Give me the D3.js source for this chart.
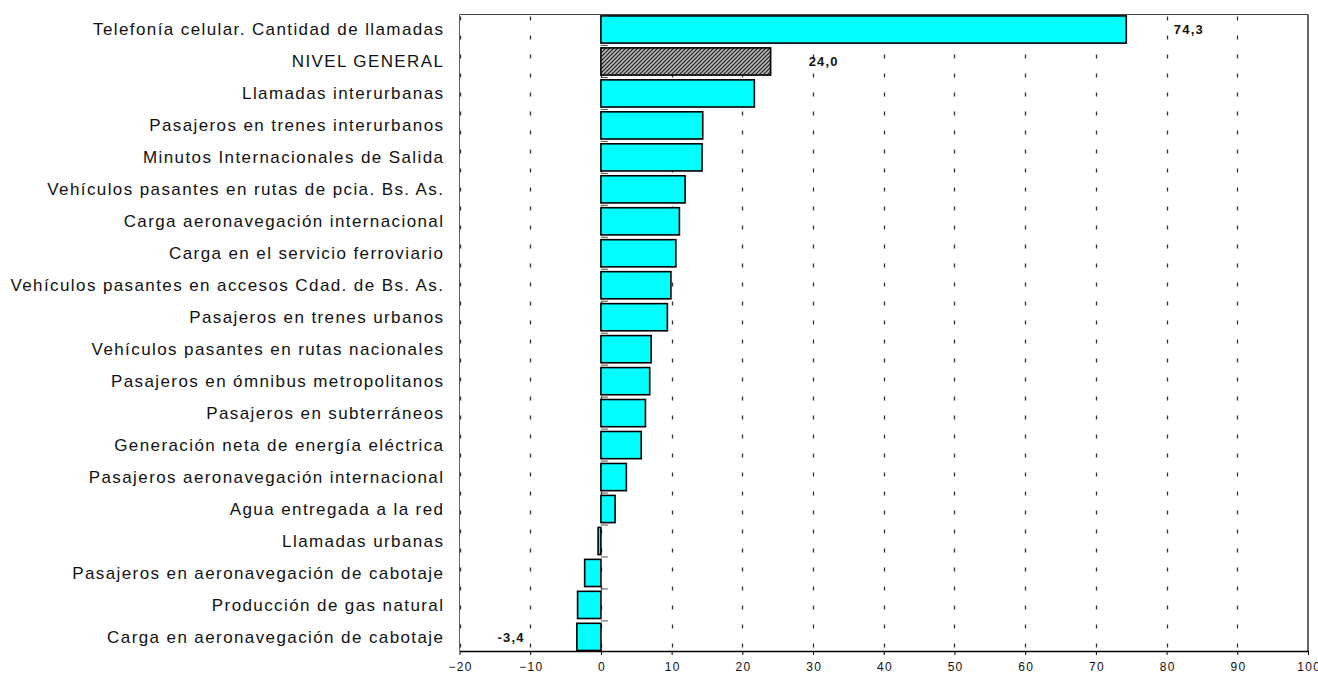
<!DOCTYPE html>
<html><head><meta charset="utf-8">
<script src="https://cdn.jsdelivr.net/npm/d3@7"></script>
<style>
html,body{margin:0;padding:0;background:#fff;}
svg{display:block;font-family:Arial,"Liberation Sans",sans-serif;}
</style></head>
<body>
<svg id="chart" width="1318" height="675"></svg>
<script>
const categories = [
  "Telefonía celular. Cantidad de llamadas",
  "NIVEL GENERAL",
  "Llamadas interurbanas",
  "Pasajeros en trenes interurbanos",
  "Minutos Internacionales de Salida",
  "Vehículos pasantes en rutas de pcia. Bs. As.",
  "Carga aeronavegación internacional",
  "Carga en el servicio ferroviario",
  "Vehículos pasantes en accesos Cdad. de Bs. As.",
  "Pasajeros en trenes urbanos",
  "Vehículos pasantes en rutas nacionales",
  "Pasajeros en ómnibus metropolitanos",
  "Pasajeros en subterráneos",
  "Generación neta de energía eléctrica",
  "Pasajeros aeronavegación internacional",
  "Agua entregada a la red",
  "Llamadas urbanas",
  "Pasajeros en aeronavegación de cabotaje",
  "Producción de gas natural",
  "Carga en aeronavegación de cabotaje"
];
const values = [74.3, 24.0, 21.7, 14.4, 14.3, 11.9, 11.1, 10.6, 9.9, 9.4, 7.1, 6.9, 6.3, 5.7, 3.6, 2.0, -0.4, -2.3, -3.3, -3.4];
const labeledIndex = [0, 1, 19];
const labelTexts = ["74,3", "24,0", "-3,4"];
const highlight = "NIVEL GENERAL";
const xTicks = [-20, -10, 0, 10, 20, 30, 40, 50, 60, 70, 80, 90, 100];

(function () {
const svg = d3.select("#chart");
const pL = 459.5, pR = 1308, pT = 14.5, pB = 651;

const x = d3.scaleLinear().domain([-20, 100]).range([pL, pR]);
const y = d3.scaleBand().domain(categories).range([14, 652.4]).paddingInner(0.15).paddingOuter(0.06);

// hatch pattern
const defs = svg.append("defs");
const pat = defs.append("pattern").attr("id", "hatch").attr("patternUnits", "userSpaceOnUse")
  .attr("width", 4).attr("height", 4);
pat.append("rect").attr("width", 4).attr("height", 4).attr("fill", "#111");
pat.append("path").attr("d", "M-1,1 l2,-2 M0,4 l4,-4 M3,5 l2,-2").attr("stroke", "#b4b4b4").attr("stroke-width", 1.9);

// frame
svg.append("line").attr("x1", pL).attr("x2", pR).attr("y1", pT).attr("y2", pT).attr("stroke", "#444").attr("stroke-width", 1.2);
svg.append("line").attr("x1", pR).attr("x2", pR).attr("y1", pT).attr("y2", pB).attr("stroke", "#000").attr("stroke-width", 1.2);
svg.append("line").attr("x1", pL).attr("x2", pL).attr("y1", pT).attr("y2", pB).attr("stroke", "#666").attr("stroke-width", 1);

// dashed grid
svg.append("g").selectAll("line").data(xTicks.filter(t => t < 100)).join("line")
  .attr("x1", d => Math.round(x(d)) + 0.5).attr("x2", d => Math.round(x(d)) + 0.5)
  .attr("y1", pT).attr("y2", pB)
  .attr("stroke", "#333").attr("stroke-width", 1.3)
  .attr("stroke-dasharray", "4,15").attr("stroke-dashoffset", -2);

// bars
svg.append("g").selectAll("rect").data(categories).join("rect")
  .attr("x", (d, i) => x(Math.min(0, values[i])))
  .attr("width", (d, i) => Math.abs(x(values[i]) - x(0)))
  .attr("y", d => y(d))
  .attr("height", y.bandwidth())
  .attr("fill", d => d === highlight ? "url(#hatch)" : "#00ffff")
  .attr("stroke", "#000").attr("stroke-width", 1.6);

// category separator ticks at zero
const step = y.step();
svg.append("g").selectAll("line").data(categories.slice(1)).join("line")
  .attr("x1", x(0)).attr("x2", x(0) + 7)
  .attr("y1", d => y(d) - step * y.paddingInner() / 2)
  .attr("y2", d => y(d) - step * y.paddingInner() / 2)
  .attr("stroke", "#555").attr("stroke-width", 1);

// category labels
svg.append("g").selectAll("text").data(categories).join("text")
  .attr("x", 443 + 1.4).attr("y", d => y(d) + y.bandwidth() / 2)
  .attr("dy", "0.35em").attr("text-anchor", "end")
  .attr("font-size", 17).attr("letter-spacing", 1.4).attr("fill", "#111")
  .text(d => d);

// value labels
const labelOffsets = [62, 52.5, -66.4];
svg.append("g").selectAll("text").data(labeledIndex).join("text")
  .attr("x", (d, k) => x(values[d]) + labelOffsets[k] + 0.6)
  .attr("y", d => y(categories[d]) + y.bandwidth() / 2)
  .attr("dy", "0.36em").attr("text-anchor", "middle")
  .attr("font-size", 13).attr("letter-spacing", 1.2).attr("font-weight", "bold").attr("fill", "#111")
  .text((d, k) => labelTexts[k]);

// bottom axis
const ax = svg.append("g").attr("transform", `translate(0,${pB})`)
  .call(d3.axisBottom(x).tickValues(xTicks).tickSize(4).tickSizeOuter(0).tickFormat(d3.format("d")));
ax.select(".domain").attr("stroke", "#000").attr("stroke-width", 1.6);
ax.selectAll(".tick line").attr("stroke", "#000");
ax.selectAll("text").attr("font-size", 12).attr("letter-spacing", 1.3)
  .attr("font-family", "Arial, 'Liberation Sans', sans-serif").attr("fill", "#111")
  .attr("y", 20).attr("dy", "0").attr("dx", 0.65);
})();
</script>
</body></html>
